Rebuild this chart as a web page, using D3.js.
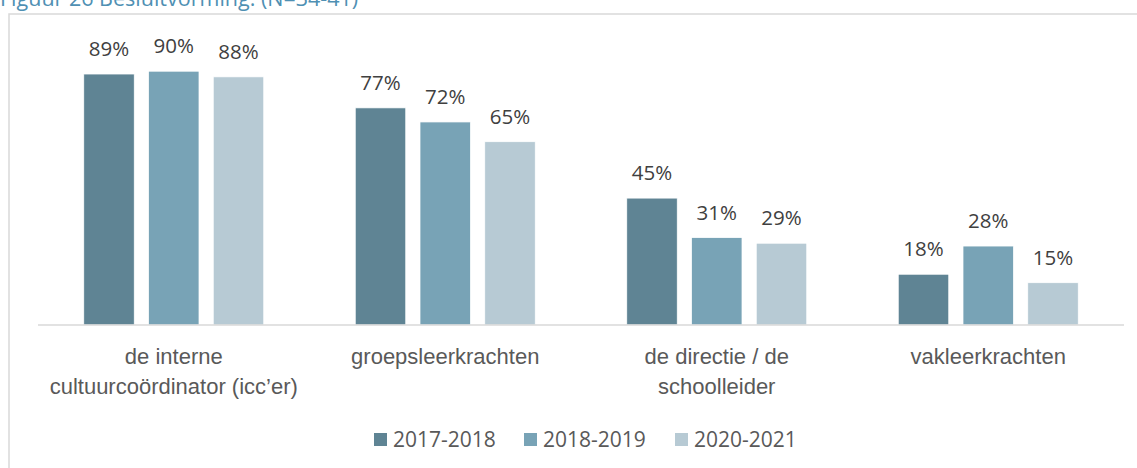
<!DOCTYPE html>
<html>
<head>
<meta charset="utf-8">
<script src="https://cdn.jsdelivr.net/npm/d3@7"></script>
<style>
	html, body { margin: 0; padding: 0; background: #ffffff; overflow: hidden; }
	svg { display: block; font-family: "Open Sans", sans-serif; }
</style>
</head>
<body>
<div id="chart"></div>
<script>
/**
 * Data
 */
const categories = [
	["de interne", "cultuurcoördinator (icc’er)"],
	["groepsleerkrachten"],
	["de directie / de", "schoolleider"],
	["vakleerkrachten"]
];
const seriesNames = ["2017-2018", "2018-2019", "2020-2021"];
const values2017 = [0.89, 0.77, 0.45, 0.18];
const values2018 = [0.90, 0.72, 0.31, 0.28];
const values2020 = [0.88, 0.65, 0.29, 0.15];
const titleText = "Figuur 26 Besluitvorming. (N=34-41)";

/**
 * Default Properties
 */
let width = 1137;
let height = 468;
let margin = { top: 43, right: 13, bottom: 143, left: 38 };
let colors = ["#5f8494", "#78a3b6", "#b7cad4"];
let labelSize = 20.5;
let axisSize = 22;
let legendSize = 21;

let chartW = width - margin.left - margin.right;
let chartH = height - margin.top - margin.bottom;

let seriesValues = [values2017, values2018, values2020];
let data = categories.map(function(c, i) {
	return {
		key: c.join(" "),
		lines: c,
		values: seriesNames.map(function(s, j) { return { key: s, value: seriesValues[j][i] }; })
	};
});

/**
 * Scales
 */
let xScale = d3.scaleBand()
	.domain(data.map(function(d) { return d.key; }))
	.range([0, chartW]);

let xSeries = d3.scaleBand()
	.domain(seriesNames)
	.range([xScale.bandwidth() / 2 - 90, xScale.bandwidth() / 2 + 90])
	.paddingInner(0.22)
	.paddingOuter(0);

let yScale = d3.scaleLinear()
	.domain([0, 1])
	.range([chartH, 0]);

let colorScale = d3.scaleOrdinal().domain(seriesNames).range(colors);

/**
 * Build chart
 */
let svg = d3.select("#chart").append("svg")
	.attr("width", width)
	.attr("height", height);

// Title (cut off at the top edge, as in the original)
svg.append("text")
	.attr("x", 0)
	.attr("y", 6)
	.attr("fill", "#4f90b3")
	.style("font-size", "21.5px")
	.text(titleText);

// Outer frame
svg.append("rect")
	.attr("x", 9)
	.attr("y", 14)
	.attr("width", width + 20)
	.attr("height", height + 20)
	.attr("fill", "none")
	.attr("stroke", "#d9d9d9")
	.attr("stroke-width", 1.5);

let chart = svg.append("g")
	.attr("transform", "translate(" + margin.left + "," + margin.top + ")");

let seriesGroup = chart.selectAll(".seriesGroup")
	.data(data)
	.enter().append("g")
	.attr("class", "seriesGroup")
	.attr("transform", function(d) { return "translate(" + xScale(d.key) + ",0)"; });

seriesGroup.selectAll("rect")
	.data(function(d) { return d.values; })
	.enter().append("rect")
	.attr("x", function(d) { return xSeries(d.key); })
	.attr("y", function(d) { return yScale(d.value); })
	.attr("width", xSeries.bandwidth())
	.attr("height", function(d) { return chartH - yScale(d.value); })
	.attr("fill", function(d) { return colorScale(d.key); })
	.attr("stroke", "#ffffff")
	.attr("stroke-width", 0.75);

// Value labels
seriesGroup.selectAll(".valueLabel")
	.data(function(d) { return d.values; })
	.enter().append("text")
	.attr("class", "valueLabel")
	.attr("x", function(d) { return xSeries(d.key) + xSeries.bandwidth() / 2; })
	.attr("y", function(d) { return yScale(d.value) - 18; })
	.attr("text-anchor", "middle")
	.attr("fill", "#404040")
	.style("font-size", labelSize + "px")
	.text(function(d) { return Math.round(d.value * 100) + "%"; });

// X Axis baseline
chart.append("line")
	.attr("x1", 0)
	.attr("x2", chartW)
	.attr("y1", chartH)
	.attr("y2", chartH)
	.attr("stroke", "#d9d9d9")
	.attr("stroke-width", 1.5);

// Category labels (multi-line)
let xAxis = d3.axisBottom(xScale).tickSize(0).tickFormat("");
let axisG = chart.append("g")
	.attr("transform", "translate(0," + chartH + ")")
	.call(xAxis);
axisG.select(".domain").remove();

axisG.selectAll(".tick").append("text")
	.attr("text-anchor", "middle")
	.attr("fill", "#595959")
	.style("font-size", axisSize + "px")
	.selectAll("tspan")
	.data(function(d) { return data.find(function(c) { return c.key === d; }).lines; })
	.enter().append("tspan")
	.attr("x", 0)
	.attr("y", function(d, i) { return 39 + i * 30; })
	.text(function(d) { return d; });

// Legend
let legendX = [374, 524, 675];
let legend = svg.append("g").attr("class", "legend");
let legendItem = legend.selectAll("g")
	.data(seriesNames)
	.enter().append("g")
	.attr("transform", function(d, i) { return "translate(" + legendX[i] + ",433)"; });

legendItem.append("rect")
	.attr("width", 13)
	.attr("height", 13)
	.attr("fill", function(d) { return colorScale(d); });

legendItem.append("text")
	.attr("x", 19)
	.attr("y", 14)
	.attr("fill", "#595959")
	.style("font-size", legendSize + "px")
	.text(function(d) { return d; });
</script>
</body>
</html>
